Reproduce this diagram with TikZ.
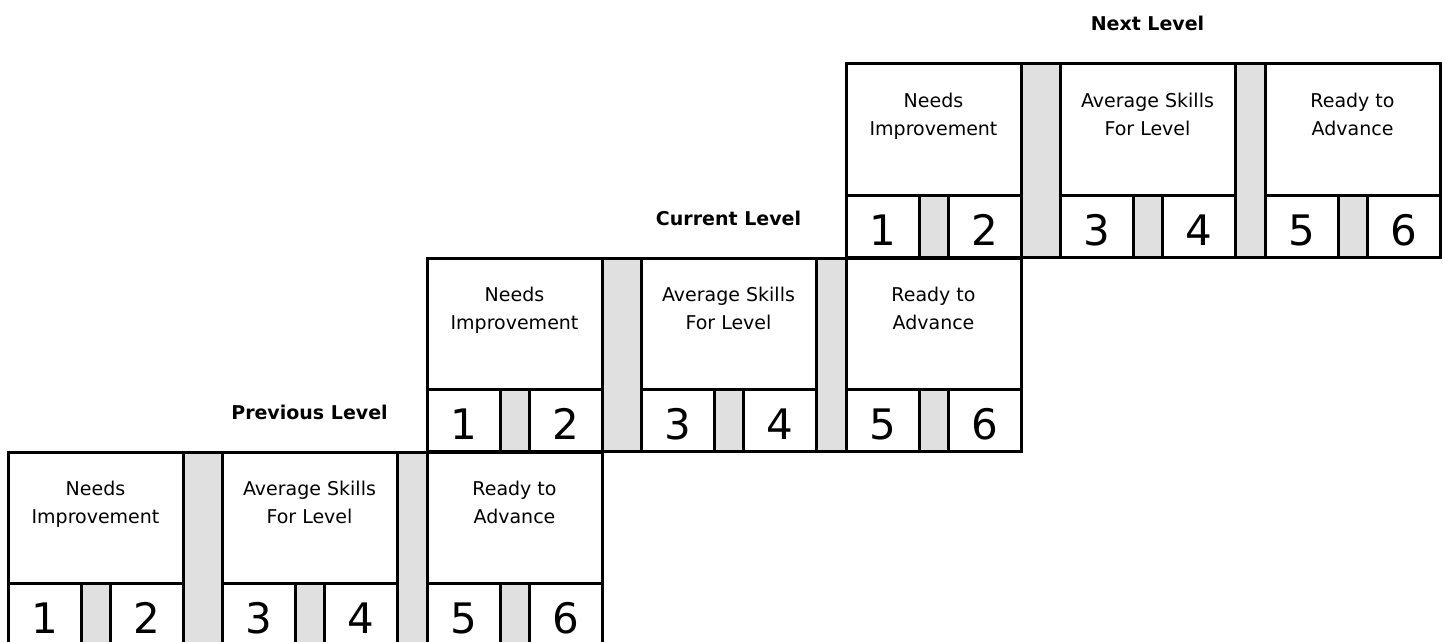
\documentclass[tikz,border=0pt]{standalone}
\usepackage{fontspec}
\setmainfont{DejaVu Sans}
\definecolor{bandgray}{HTML}{E0E0E0}
\tikzset{
  frame/.style={draw=black, line width=3pt},
  band/.style={fill=bandgray},
  caption/.style={font=\fontsize{19}{28}\selectfont, align=center, anchor=base, inner sep=0pt},
  digit/.style={font=\fontsize{42}{42}\selectfont, anchor=base, inner sep=0pt},
  levelname/.style={font=\bfseries\fontsize{19}{23}\selectfont, anchor=base, inner sep=0pt},
}
% One rating box: #1 left offset, #2 node name, #3 caption, #4/#5 the two scores
\newcommand\skillbox[5]{%
  \fill[band] (#1+73,131) rectangle (#1+102,193);
  \draw[frame] (#1,0) rectangle (#1+175,193);
  \draw[frame] (#1,131) -- (#1+175,131);
  \draw[frame] (#1+73,131) -- (#1+73,193);
  \draw[frame] (#1+102,131) -- (#1+102,193);
  \node[caption] (#2) at (#1+87.5,71) {#3};
  \node[digit] (#2-lo) at (#1+36.5,181) {#4};
  \node[digit] (#2-hi) at (#1+138.5,181) {#5};
}
% One level of three boxes: #1,#2 top-left corner, #3 name prefix, #4 title
\newcommand\stairlevel[4]{%
  \begin{scope}[shift={(#1,#2)}]
    \fill[band] (175,0) rectangle (214,193);
    \fill[band] (389,0) rectangle (419,193);
    \skillbox{0}{#3-low}{Needs\\Improvement}{1}{2}
    \skillbox{214}{#3-mid}{Average Skills\\For Level}{3}{4}
    \skillbox{419}{#3-high}{Ready to\\Advance}{5}{6}
    \draw[frame] (0,0) rectangle (594,193);
    \node[levelname] (#3-title) at (301.5,-33) {#4};
  \end{scope}}
\begin{document}
\begin{tikzpicture}[x=1pt,y=-1pt]
  \useasboundingbox (0,0) rectangle (1445,642);
  \clip (0,0) rectangle (1445,642);
  \stairlevel{8}{452}{prev}{Previous Level}
  \stairlevel{427}{258}{curr}{Current Level}
  \stairlevel{846}{64}{next}{Next Level}
\end{tikzpicture}
\end{document}
